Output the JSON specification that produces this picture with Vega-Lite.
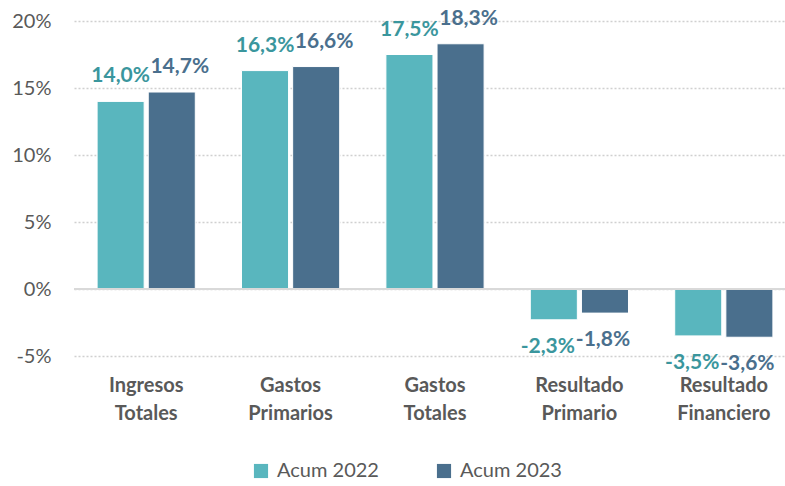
{
  "$schema": "https://vega.github.io/schema/vega-lite/v6.json",
  "width": 722,
  "height": 335,
  "autosize": {"type": "none"},
  "padding": {"left": 74, "top": 21, "right": 0, "bottom": 130},
  "background": "white",
  "config": {
    "locale": {"number": {"decimal": ",", "thousands": ".", "grouping": [3], "currency": ["$", ""], "minus": "-"}},
    "view": {"stroke": null},
    "font": "Lato"
  },
  "data": {
    "values": [
      {"cat": "Ingresos Totales", "year": "Acum 2022", "v": 0.140},
      {"cat": "Ingresos Totales", "year": "Acum 2023", "v": 0.147},
      {"cat": "Gastos Primarios", "year": "Acum 2022", "v": 0.163},
      {"cat": "Gastos Primarios", "year": "Acum 2023", "v": 0.166},
      {"cat": "Gastos Totales", "year": "Acum 2022", "v": 0.175},
      {"cat": "Gastos Totales", "year": "Acum 2023", "v": 0.183},
      {"cat": "Resultado Primario", "year": "Acum 2022", "v": -0.023},
      {"cat": "Resultado Primario", "year": "Acum 2023", "v": -0.018},
      {"cat": "Resultado Financiero", "year": "Acum 2022", "v": -0.035},
      {"cat": "Resultado Financiero", "year": "Acum 2023", "v": -0.036}
    ]
  },
  "encoding": {
    "x": {
      "field": "cat", "type": "nominal", "sort": null,
      "scale": {"paddingInner": 0.32, "paddingOuter": 0.16},
      "axis": {
        "title": null, "labelAngle": 0, "domain": false, "ticks": false,
        "labelExpr": "split(datum.label, ' ')",
        "labelFontSize": 20, "labelFontWeight": "bold", "labelColor": "#595959",
        "labelPadding": 19, "labelLineHeight": 28
      }
    },
    "xOffset": {"field": "year", "type": "nominal", "scale": {"paddingInner": 0.08, "paddingOuter": 0}},
    "y": {
      "field": "v", "type": "quantitative",
      "scale": {"domain": [-0.05, 0.2], "nice": false, "zero": false},
      "axis": {
        "title": null, "values": [-0.05, 0, 0.05, 0.1, 0.15, 0.2], "format": ".0%",
        "grid": true, "gridDash": [2, 2], "gridColor": "#d0d0d0", "gridWidth": 1.5,
        "domain": false, "ticks": false,
        "labelFontSize": 20, "labelColor": "#595959", "labelPadding": 23
      }
    }
  },
  "layer": [
    {
      "mark": {"type": "bar", "stroke": "white", "strokeWidth": 1},
      "encoding": {
        "color": {
          "field": "year", "type": "nominal",
          "scale": {"domain": ["Acum 2022", "Acum 2023"], "range": ["#59B6BE", "#4A6F8D"]},
          "legend": {
            "orient": "none", "legendX": 177, "legendY": 440, "direction": "horizontal",
            "title": null, "symbolType": "square", "symbolSize": 200, "symbolStrokeWidth": 0,
            "labelFontSize": 20, "labelColor": "#595959", "columnPadding": 55, "labelOffset": 6
          }
        }
      }
    },
    {
      "data": {"values": [{"z": 0}]},
      "mark": {"type": "rule", "color": "#d9d9d9", "strokeWidth": 2},
      "encoding": {"y": {"field": "z", "type": "quantitative"}, "x": null, "xOffset": null}
    },
    {
      "transform": [{"filter": "datum.v >= 0 && datum.year == 'Acum 2022'"}],
      "mark": {"type": "text", "fontSize": 21, "fontWeight": "bold", "baseline": "middle", "dy": -25, "color": "#3A969D"},
      "encoding": {"text": {"field": "v", "type": "quantitative", "format": ".1%"}}
    },
    {
      "transform": [{"filter": "datum.v >= 0 && datum.year == 'Acum 2023'"}],
      "mark": {"type": "text", "fontSize": 21, "fontWeight": "bold", "baseline": "middle", "dy": -25, "dx": 8, "color": "#4A6F8D"},
      "encoding": {"text": {"field": "v", "type": "quantitative", "format": ".1%"}}
    },
    {
      "transform": [{"filter": "datum.v < 0 && datum.year == 'Acum 2022'"}],
      "mark": {"type": "text", "fontSize": 21, "fontWeight": "bold", "baseline": "middle", "dy": 27, "dx": -6, "color": "#3A969D"},
      "encoding": {"text": {"field": "v", "type": "quantitative", "format": ".1%"}}
    },
    {
      "transform": [{"filter": "datum.v < 0 && datum.year == 'Acum 2023'"}],
      "mark": {"type": "text", "fontSize": 21, "fontWeight": "bold", "baseline": "middle", "dy": 27, "dx": -2, "color": "#4A6F8D"},
      "encoding": {"text": {"field": "v", "type": "quantitative", "format": ".1%"}}
    }
  ]
}
